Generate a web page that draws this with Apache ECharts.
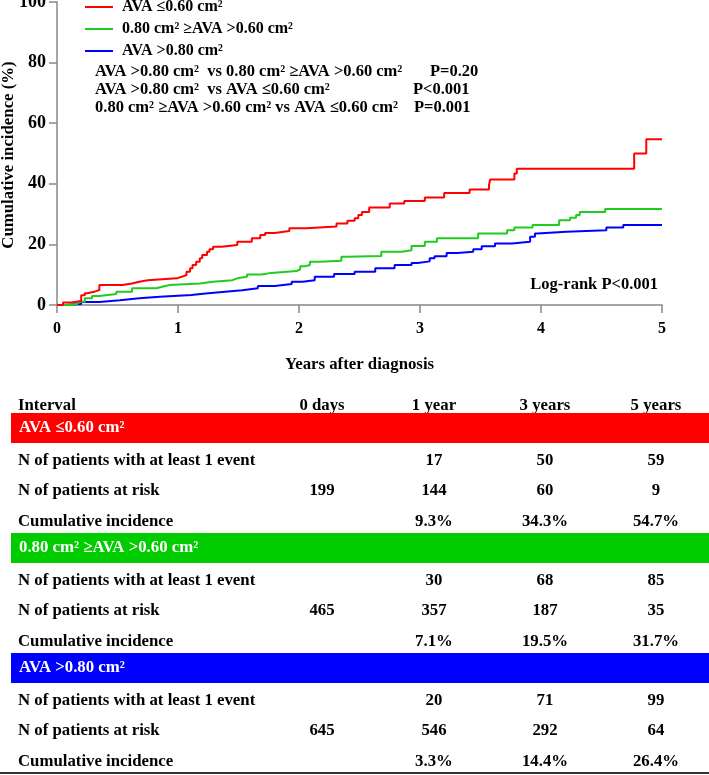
<!DOCTYPE html>
<html><head><meta charset="utf-8">
<script src="https://cdn.jsdelivr.net/npm/echarts@6/dist/echarts.min.js"></script>
<style>html,body{margin:0;padding:0;background:#fff}#c{width:709px;height:775px}</style>
</head><body><div id="c"></div>
<script>
// ---------- DATA ----------
const groupNames = ['AVA \u22640.60 cm\u00b2', '0.80 cm\u00b2 \u2265AVA >0.60 cm\u00b2', 'AVA >0.80 cm\u00b2'];
// [years, cumulative incidence %], value holds from that time onward
const redCurve = [[0,0],[0.05,0.8],[0.12,1.3],[0.20,3.2],[0.23,3.9],[0.25,4.4],[0.31,4.9],[0.35,6.6],[0.54,7.1],[0.62,7.7],[0.68,8.2],[0.75,8.8],[0.99,9.3],[1.03,9.9],[1.07,11.0],[1.10,12.1],[1.12,13.2],[1.15,14.3],[1.18,15.4],[1.20,16.5],[1.24,17.6],[1.26,18.4],[1.29,19.2],[1.36,19.8],[1.49,20.9],[1.61,22.0],[1.68,23.1],[1.72,23.8],[1.80,24.4],[1.92,25.3],[2.06,25.9],[2.31,26.9],[2.40,27.8],[2.46,28.6],[2.49,29.7],[2.52,30.7],[2.58,32.2],[2.75,33.5],[2.87,34.3],[3.04,35.5],[3.20,37.0],[3.41,38.1],[3.57,39.5],[3.58,41.4],[3.78,43.4],[3.80,45.0],[4.77,50.0],[4.87,54.7],[5.0,54.7]];
const greenCurve = [[0,0],[0.12,0.4],[0.17,1.1],[0.23,2.2],[0.29,3.0],[0.35,3.6],[0.49,4.4],[0.62,5.5],[0.82,6.0],[0.87,6.6],[0.93,7.1],[1.18,7.7],[1.29,8.2],[1.45,8.8],[1.49,9.3],[1.57,10.1],[1.69,10.6],[1.77,11.2],[1.98,11.8],[2.01,12.8],[2.05,13.2],[2.09,14.3],[2.17,14.6],[2.35,15.9],[2.40,16.2],[2.68,17.6],[2.85,18.1],[2.93,19.5],[3.04,20.9],[3.14,22.0],[3.48,23.6],[3.72,24.7],[3.78,25.6],[3.93,26.4],[4.15,28.0],[4.24,28.8],[4.29,29.7],[4.32,30.7],[4.53,31.7],[5.0,31.7]];
const blueCurve = [[0,0],[0.06,0.3],[0.20,1.0],[0.35,1.6],[0.52,2.2],[0.68,2.7],[0.85,3.3],[1.11,3.9],[1.25,4.4],[1.39,4.9],[1.53,5.5],[1.66,6.3],[1.80,6.9],[1.94,7.7],[2.03,8.2],[2.13,9.3],[2.29,10.2],[2.46,11.0],[2.63,12.1],[2.79,13.2],[2.93,13.9],[2.98,14.4],[3.08,15.4],[3.12,16.1],[3.22,17.2],[3.31,17.6],[3.44,18.4],[3.51,19.4],[3.62,20.3],[3.76,20.9],[3.91,22.5],[3.95,23.6],[3.97,24.2],[4.21,24.7],[4.54,25.6],[4.68,26.4],[5.0,26.4]];

const xAxisName = 'Years after diagnosis';
const yAxisName = 'Cumulative incidence (%)';
const comparisons = ['AVA >0.80 cm\u00b2  vs 0.80 cm\u00b2 \u2265AVA >0.60 cm\u00b2', 'AVA >0.80 cm\u00b2  vs AVA \u22640.60 cm\u00b2', '0.80 cm\u00b2 \u2265AVA >0.60 cm\u00b2 vs AVA \u22640.60 cm\u00b2'];
const pValues = ['P=0.20', 'P<0.001', 'P=0.001'];
const logRank = 'Log-rank P<0.001';

const tableHeader = ['Interval', '0 days', '1 year', '3 years', '5 years'];
const rowLabels = ['N of patients with at least 1 event', 'N of patients at risk', 'Cumulative incidence'];
const redEvents = ['', '17', '50', '59'];
const redAtRisk = ['199', '144', '60', '9'];
const redCumInc = ['', '9.3%', '34.3%', '54.7%'];
const greenEvents = ['', '30', '68', '85'];
const greenAtRisk = ['465', '357', '187', '35'];
const greenCumInc = ['', '7.1%', '19.5%', '31.7%'];
const blueEvents = ['', '20', '71', '99'];
const blueAtRisk = ['645', '546', '292', '64'];
const blueCumInc = ['', '3.3%', '14.4%', '26.4%'];

// ---------- STYLE ----------
const colors = ['#ff0000', '#1fcc1f', '#0000ff'];
const bandColors = ['#ff0000', '#00cc00', '#0000ff'];
const FONT = '"Liberation Serif", "Times New Roman", serif';
const TFS = 16.8;
const txt = (extra) => Object.assign({fontFamily: FONT, fontWeight: 'bold', fontSize: TFS, fill: '#000'}, extra);

const chart = echarts.init(document.getElementById('c'), null, {renderer: 'canvas'});

const curves = [redCurve, greenCurve, blueCurve];
const series = curves.map((d, i) => ({
  name: groupNames[i], type: 'line', step: 'end', data: d,
  symbol: 'none', showSymbol: false, animation: false,
  lineStyle: {width: 2, color: colors[i]}, itemStyle: {color: colors[i]}, z: 5 - i
}));

const graphics = [];
// y-axis title
graphics.push({type: 'text', x: 9, y: 155, rotation: Math.PI / 2, style: txt({text: yAxisName, align: 'center', verticalAlign: 'middle'})});
// comparisons
const compY = [72, 90, 108];
const pX = [430, 413, 414];
comparisons.forEach((s, i) => {
  graphics.push({type: 'text', x: 95, y: compY[i], style: txt({text: s, fontSize: 16.5, verticalAlign: 'middle'})});
  graphics.push({type: 'text', x: pX[i], y: compY[i], style: txt({text: pValues[i], fontSize: 16.5, verticalAlign: 'middle'})});
});
graphics.push({type: 'text', x: 658, y: 285, style: txt({text: logRank, fontSize: 16.5, align: 'right', verticalAlign: 'middle'})});

// table
const colX = [322, 434, 545, 656];
const LEFT = 18;
function rowText(y, label, vals) {
  graphics.push({type: 'text', x: LEFT, y: y, style: txt({text: label, verticalAlign: 'middle'})});
  vals.forEach((v, j) => {
    if (v !== '') graphics.push({type: 'text', x: colX[j], y: y, style: txt({text: v, align: 'center', verticalAlign: 'middle'})});
  });
}
rowText(406, tableHeader[0], tableHeader.slice(1));
const groupsTable = [[redEvents, redAtRisk, redCumInc], [greenEvents, greenAtRisk, greenCumInc], [blueEvents, blueAtRisk, blueCumInc]];
const bandTop = [413, 533, 653];
groupsTable.forEach((g, i) => {
  const bt = bandTop[i];
  graphics.push({type: 'rect', shape: {x: 11, y: bt, width: 698, height: 30}, style: {fill: bandColors[i]}});
  graphics.push({type: 'text', x: 19, y: bt + 15, style: txt({text: groupNames[i], fill: '#fff', verticalAlign: 'middle'})});
  rowText(bt + 48, rowLabels[0], g[0]);
  rowText(bt + 78, rowLabels[1], g[1]);
  rowText(bt + 109, rowLabels[2], g[2]);
});
graphics.push({type: 'rect', shape: {x: 0, y: 772, width: 709, height: 2}, style: {fill: '#333'}});

chart.setOption({
  animation: false,
  backgroundColor: '#fff',
  grid: {left: 57, top: 2, width: 605, height: 303, outerBoundsMode: 'none', containLabel: false},
  legend: {
    data: groupNames, orient: 'vertical', left: 85, top: -1, padding: 0,
    icon: 'rect', itemWidth: 28, itemHeight: 2, itemGap: 6,
    textStyle: {fontFamily: FONT, fontWeight: 'bold', fontSize: 16, color: '#000', padding: [0, 0, 0, 4]}
  },
  xAxis: {
    type: 'value', min: 0, max: 5, interval: 1,
    name: xAxisName, nameLocation: 'middle', nameGap: 51,
    nameTextStyle: {fontFamily: FONT, fontWeight: 'bold', fontSize: TFS, color: '#000'},
    axisLine: {show: true, lineStyle: {color: '#888', width: 1.5}},
    axisTick: {show: true, length: 8, lineStyle: {color: '#888', width: 1.5}},
    axisLabel: {fontFamily: FONT, fontWeight: 'bold', fontSize: 16, color: '#000', margin: 16},
    splitLine: {show: false}
  },
  yAxis: {
    type: 'value', min: 0, max: 100, interval: 20,
    axisLine: {show: true, lineStyle: {color: '#888', width: 1.5}},
    axisTick: {show: true, length: 8, lineStyle: {color: '#888', width: 1.5}},
    axisLabel: {fontFamily: FONT, fontWeight: 'bold', fontSize: 18, color: '#000', margin: 11},
    splitLine: {show: false}
  },
  series: series,
  graphic: graphics
});
</script></body></html>
